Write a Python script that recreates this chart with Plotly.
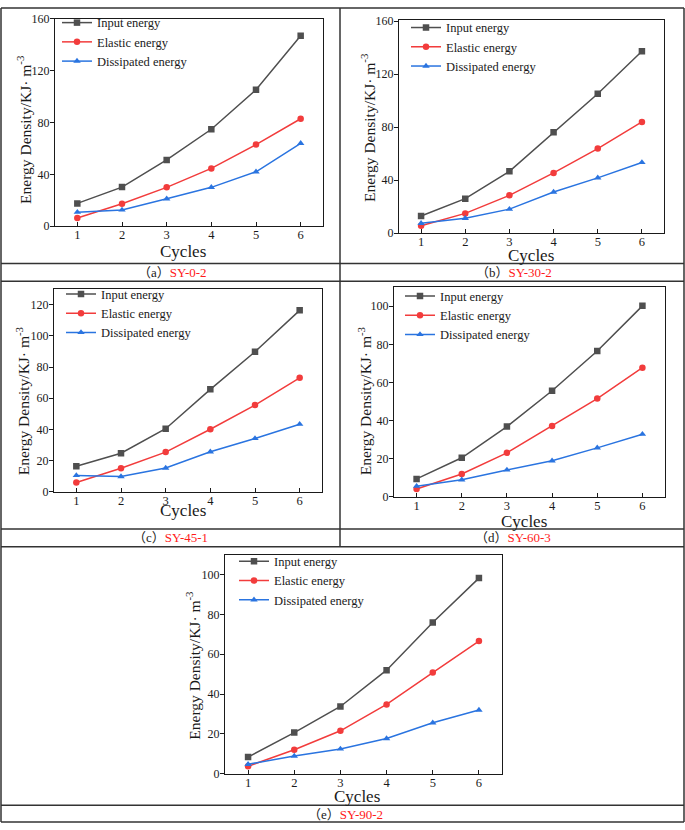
import plotly.graph_objects as go

W, H = 685, 830

cycles = [1, 2, 3, 4, 5, 6]

# Panel (a) SY-0-2
a_input = [17.6, 30.2, 51.1, 74.8, 105.3, 146.9]
a_elastic = [6.3, 17.4, 30.0, 44.6, 63.0, 82.9]
a_dissip = [10.8, 12.6, 21.2, 30.0, 42.0, 64.0]

# Panel (b) SY-30-2
b_input = [12.9, 26.0, 46.6, 76.2, 105.2, 137.2]
b_elastic = [5.5, 14.9, 28.5, 45.4, 63.8, 83.9]
b_dissip = [7.4, 11.2, 18.1, 31.0, 41.7, 53.3]

# Panel (c) SY-45-1
c_input = [16.3, 24.7, 40.4, 65.7, 89.8, 116.4]
c_elastic = [5.9, 15.0, 25.4, 40.1, 55.6, 73.1]
c_dissip = [10.4, 9.7, 15.2, 25.6, 34.2, 43.3]

# Panel (d) SY-60-3
d_input = [9.3, 20.4, 36.8, 55.6, 76.5, 100.2]
d_elastic = [4.0, 11.9, 23.0, 37.1, 51.5, 67.7]
d_dissip = [5.5, 8.8, 14.0, 18.8, 25.6, 32.8]

# Panel (e) SY-90-2
e_input = [8.4, 20.7, 33.8, 52.0, 75.9, 98.2]
e_elastic = [3.8, 12.1, 21.6, 34.8, 50.8, 66.6]
e_dissip = [4.8, 8.9, 12.5, 17.7, 25.6, 32.0]

series_names = ["Input energy", "Elastic energy", "Dissipated energy"]
panel_labels = ["a", "b", "c", "d", "e"]
panel_names = ["SY-0-2", "SY-30-2", "SY-45-1", "SY-60-3", "SY-90-2"]
x_title = "Cycles"
y_title = "Energy Density/KJ· m<sup>-3</sup>"
y_ticks = [[0, 40, 80, 120, 160], [0, 40, 80, 120, 160],
           [0, 20, 40, 60, 80, 100, 120], [0, 20, 40, 60, 80, 100],
           [0, 20, 40, 60, 80, 100]]
y_ranges = [[0, 160], [0, 161], [0, 130], [0, 110], [0, 110]]

data = [
    (a_input, a_elastic, a_dissip),
    (b_input, b_elastic, b_dissip),
    (c_input, c_elastic, c_dissip),
    (d_input, d_elastic, d_dissip),
    (e_input, e_elastic, e_dissip),
]

colors = ["#4f4f4f", "#f23c3c", "#2a74e0"]
symbols = ["square", "circle", "triangle-up"]

# pixel boxes (left, top, right, bottom)
boxes = [(55, 12, 323, 223), (399, 13, 664, 230), (54, 287, 322, 493),
         (394, 285, 665, 498), (225, 557, 502, 780)]
# legend: (text start x, first entry centre y)
legend_pos = [(98, 23), (447, 28), (102, 299), (441, 301), (275, 571)]
# axis title centres (px)
xtitle_pos = [(183, 248.5), (531, 253), (183, 512.5), (524, 523), (357, 803)]
ytitle_pos = [(24, 125), (368, 123), (23, 401), (365, 401), (193, 670)]

FONT = '"Liberation Serif", "Times New Roman", Times, serif'
INK = "#1a1a1a"

fig = go.Figure()
layout = {}
for i, (vals, box) in enumerate(zip(data, boxes)):
    l, t, r, b = box
    xa = "xaxis" if i == 0 else f"xaxis{i+1}"
    ya = "yaxis" if i == 0 else f"yaxis{i+1}"
    xr = "x" if i == 0 else f"x{i+1}"
    yr = "y" if i == 0 else f"y{i+1}"
    lg = "legend" if i == 0 else f"legend{i+1}"
    for s in range(3):
        fig.add_trace(go.Scatter(
            x=cycles, y=vals[s], name=series_names[s], mode="lines+markers",
            line=dict(color=colors[s], width=1.5),
            marker=dict(symbol=symbols[s], size=6.5, color=colors[s]),
            xaxis=xr, yaxis=yr, legend=lg, showlegend=True))
    layout[xa] = dict(domain=[l / W, r / W], anchor=yr, range=[0.5, 6.5],
                      tickvals=cycles, ticks="inside", ticklen=4, tickcolor=INK,
                      showline=True, linecolor=INK, linewidth=1, mirror=True,
                      showgrid=False, zeroline=False, ticklabelstandoff=-3,
                      tickfont=dict(family=FONT, size=12.5, color=INK))
    layout[ya] = dict(domain=[1 - b / H, 1 - t / H], anchor=xr, range=y_ranges[i],
                      tickvals=y_ticks[i], ticks="outside", ticklen=4, tickcolor=INK,
                      showline=True, linecolor=INK, linewidth=1, mirror=True,
                      showgrid=False, zeroline=False, ticklabelstandoff=-2,
                      tickfont=dict(family=FONT, size=12, color=INK))
    tx, cy = legend_pos[i]
    layout[lg] = dict(x=(tx - 41) / W, y=1 - (cy - 22) / H, xanchor="left", yanchor="top",
                      bgcolor="rgba(0,0,0,0)", font=dict(family=FONT, size=12.5, color=INK),
                      itemwidth=30, tracegroupgap=0)
    # axis titles as text annotations
    xx, xy = xtitle_pos[i]
    fig.add_annotation(x=xx / W, y=1 - xy / H, xref="paper", yref="paper", text=x_title,
                       showarrow=False, xanchor="center", yanchor="middle",
                       font=dict(family=FONT, size=17, color=INK))
    yx, yy = ytitle_pos[i]
    fig.add_annotation(x=yx / W, y=1 - yy / H, xref="paper", yref="paper", text=y_title,
                       showarrow=False, xanchor="center", yanchor="middle", textangle=-90,
                       font=dict(family=FONT, size=15.5, color=INK))

fig.update_layout(**layout)

# table frame
line_style = dict(color="#333", width=1.5)
shapes = []
def hline(y, x0=1, x1=684):
    shapes.append(dict(type="line", xref="paper", yref="paper", x0=x0 / W, x1=x1 / W,
                       y0=1 - y / H, y1=1 - y / H, line=line_style))
def vline(x, y0, y1):
    shapes.append(dict(type="line", xref="paper", yref="paper", x0=x / W, x1=x / W,
                       y0=1 - y0 / H, y1=1 - y1 / H, line=line_style))
for y in [1, 261, 279, 531, 549, 812, 829]:
    hline(y)
vline(1, 1, 829)
vline(684, 1, 829)
vline(340, 1, 549)
fig.update_layout(shapes=shapes)

cap_pos = [(172, 270), (514, 270), (170, 540), (513, 540), (345, 821)]
for (cx, cy), lab, nm in zip(cap_pos, panel_labels, panel_names):
    fig.add_annotation(x=cx / W, y=1 - cy / H, xref="paper", yref="paper",
                       text=f"（{lab}）<span style='color:#ff1a1a'>{nm}</span>",
                       showarrow=False, xanchor="center", yanchor="middle",
                       font=dict(family=FONT + ', "Noto Sans CJK SC"', size=13, color=INK))

fig.update_layout(width=W, height=H, margin=dict(l=0, r=0, t=0, b=0),
                  font=dict(family=FONT, color=INK),
                  paper_bgcolor="white", plot_bgcolor="white")

fig.write_html("out.html", config={"displayModeBar": False},
               post_script="document.body.style.margin='0';")
